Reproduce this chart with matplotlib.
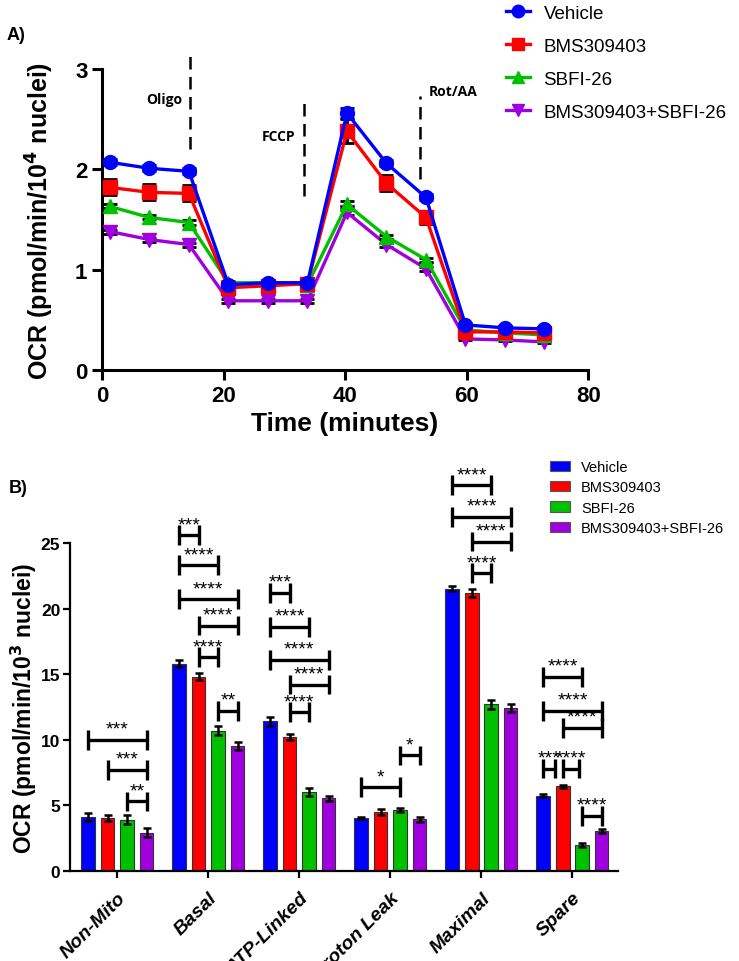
import numpy as np
import matplotlib.pyplot as plt
from matplotlib.patches import Patch
from matplotlib.lines import Line2D

plt.rcParams['font.family'] = ['Liberation Sans', 'DejaVu Sans']

groups = ['Vehicle', 'BMS309403', 'SBFI-26', 'BMS309403+SBFI-26']
colors = ['#0000ff', '#ff0000', '#00c000', '#a000e0']
markers = ['o', 's', '^', 'v']

# panel A - OCR time course
time_min = [1.3, 7.8, 14.3, 20.8, 27.3, 33.8, 40.3, 46.8, 53.3, 59.8, 66.3, 72.8]
ocr_vehicle = [2.07, 2.01, 1.98, 0.85, 0.87, 0.87, 2.56, 2.06, 1.72, 0.45, 0.42, 0.41]
ocr_bms = [1.82, 1.77, 1.76, 0.82, 0.84, 0.86, 2.38, 1.86, 1.52, 0.38, 0.38, 0.37]
ocr_sbfi = [1.63, 1.52, 1.47, 0.87, 0.87, 0.85, 1.65, 1.33, 1.10, 0.40, 0.37, 0.35]
ocr_combo = [1.38, 1.30, 1.25, 0.69, 0.69, 0.69, 1.57, 1.25, 1.01, 0.31, 0.30, 0.28]
err_vehicle = [0.03, 0.03, 0.03, 0.02, 0.02, 0.02, 0.05, 0.03, 0.03, 0.02, 0.02, 0.02]
err_bms = [0.08, 0.08, 0.08, 0.03, 0.03, 0.03, 0.12, 0.08, 0.06, 0.02, 0.02, 0.02]
err_sbfi = [0.02, 0.02, 0.02, 0.02, 0.02, 0.02, 0.03, 0.02, 0.02, 0.01, 0.01, 0.01]
err_combo = [0.02, 0.02, 0.02, 0.02, 0.02, 0.02, 0.03, 0.02, 0.02, 0.01, 0.01, 0.01]

injections = ['Oligo', 'FCCP', 'Rot/AA']
inj_time = [14.5, 33.3, 52.4]
inj_ymin = [2.20, 1.73, 1.90]
inj_ymax = [3.14, 2.67, 2.73]

# panel B - mito stress parameters
categories = ['Non-Mito', 'Basal', 'ATP-Linked', 'Proton Leak', 'Maximal', 'Spare']
bar_vehicle = [4.1, 15.8, 11.4, 4.05, 21.5, 5.75]
bar_bms = [4.05, 14.8, 10.2, 4.5, 21.2, 6.45]
bar_sbfi = [3.9, 10.7, 6.05, 4.65, 12.7, 2.0]
bar_combo = [2.9, 9.5, 5.55, 3.95, 12.45, 3.05]
sem_vehicle = [0.3, 0.25, 0.35, 0.1, 0.2, 0.15]
sem_bms = [0.25, 0.25, 0.2, 0.25, 0.3, 0.1]
sem_sbfi = [0.35, 0.35, 0.3, 0.15, 0.35, 0.15]
sem_combo = [0.35, 0.3, 0.2, 0.2, 0.3, 0.12]

# (category, bar a, bar b, height, label)
brackets = [
    (0, 0, 3, 10.0, '***'), (0, 1, 3, 7.7, '***'), (0, 2, 3, 5.3, '**'),
    (1, 0, 1, 25.6, '***'), (1, 0, 2, 23.3, '****'), (1, 0, 3, 20.7, '****'),
    (1, 1, 3, 18.7, '****'), (1, 1, 2, 16.3, '****'), (1, 2, 3, 12.2, '**'),
    (2, 0, 1, 21.2, '***'), (2, 0, 2, 18.6, '****'), (2, 0, 3, 16.1, '****'),
    (2, 1, 3, 14.2, '****'), (2, 1, 2, 12.1, '****'),
    (3, 0, 2, 6.4, '*'), (3, 2, 3, 8.8, '*'),
    (4, 0, 2, 29.4, '****'), (4, 0, 3, 27.0, '****'), (4, 1, 3, 25.1, '****'),
    (4, 1, 2, 22.7, '****'),
    (5, 0, 2, 14.8, '****'), (5, 0, 3, 12.2, '****'), (5, 1, 3, 10.9, '****'),
    (5, 0, 0.6, 7.8, '***'), (5, 1, 1.85, 7.8, '****'), (5, 2, 3, 4.2, '****'),
]

fig = plt.figure(figsize=(7.39, 9.62), dpi=100)

# ---------- A ----------
ax1 = fig.add_axes([0.138, 0.6143, 0.658, 0.313])
series = [ocr_vehicle, ocr_bms, ocr_sbfi, ocr_combo]
errs = [err_vehicle, err_bms, err_sbfi, err_combo]
for k in [3, 2, 1, 0]:
    ax1.errorbar(time_min, series[k], yerr=errs[k], color=colors[k], ecolor='black',
                 elinewidth=2, capsize=5, capthick=2, lw=2.4, marker=markers[k],
                 ms=10, zorder=3 + (3 - k))
for name, t, y0, y1 in zip(injections, inj_time, inj_ymin, inj_ymax):
    ax1.plot([t, t], [y0, y1], color='black', lw=1.8, ls=(0, (5, 3)), clip_on=False)
ax1.text(13.2, 2.70, 'Oligo', ha='right', va='center', fontsize=10, fontweight='bold', family='Open Sans')
ax1.text(31.8, 2.33, 'FCCP', ha='right', va='center', fontsize=10, fontweight='bold', family='Open Sans')
ax1.text(53.7, 2.78, 'Rot/AA', ha='left', va='center', fontsize=10, fontweight='bold', family='Open Sans')

ax1.set_xlim(0, 80)
ax1.set_ylim(0, 3)
ax1.set_xticks([0, 20, 40, 60, 80])
ax1.set_yticks([0, 1, 2, 3])
for s in ['top', 'right']:
    ax1.spines[s].set_visible(False)
for s in ['left', 'bottom']:
    ax1.spines[s].set_linewidth(2.2)
ax1.tick_params(width=2.2, length=7, labelsize=16)
for lab in ax1.get_xticklabels() + ax1.get_yticklabels():
    lab.set_fontweight('bold')
ax1.set_xlabel('Time (minutes)', fontsize=19, fontweight='bold')
ax1.set_ylabel('OCR (pmol/min/10$^\\mathbf{4}$ nuclei)', fontsize=18, fontweight='bold', labelpad=14)

handles = [Line2D([], [], color=colors[k], marker=markers[k], lw=2.4, ms=9) for k in range(4)]
fig.legend(handles, groups, loc='upper left', bbox_to_anchor=(0.672, 1.004), frameon=False,
           fontsize=13.5, handlelength=1.3, handletextpad=0.7, labelspacing=0.85, borderpad=0)
fig.text(0.009, 0.958, 'A)', fontsize=13, fontweight='bold')

# ---------- B ----------
ax2 = fig.add_axes([0.0947, 0.0936, 0.7415, 0.341])
bars = [bar_vehicle, bar_bms, bar_sbfi, bar_combo]
sems = [sem_vehicle, sem_bms, sem_sbfi, sem_combo]
step = 0.214
x = np.arange(len(categories))
for k in range(4):
    ax2.bar(x + (k - 1.5) * step, bars[k], width=0.15, color=colors[k], edgecolor='#333333',
            linewidth=0.8, yerr=sems[k], capsize=3,
            error_kw=dict(elinewidth=1.8, capthick=1.8, ecolor='black'), zorder=2)

for c, a, b, y, lab in brackets:
    xa = c + (a - 1.5) * step
    xb = c + (b - 1.5) * step
    ax2.plot([xa, xb], [y, y], color='black', lw=2.4, clip_on=False, solid_capstyle='butt')
    for xx in (xa, xb):
        ax2.plot([xx, xx], [y - 0.75, y + 0.75], color='black', lw=2.4, clip_on=False,
                 solid_capstyle='butt')
    ax2.text((xa + xb) / 2, y + 0.15, lab, ha='center', va='bottom', fontsize=14, clip_on=False)

ax2.set_xlim(-0.52, 5.5)
ax2.set_ylim(0, 25)
ax2.set_yticks([0, 5, 10, 15, 20, 25])
ax2.set_xticks(x)
ax2.set_xticklabels(categories, rotation=45, ha='right', rotation_mode='anchor',
                    fontsize=14, fontweight='bold', fontstyle='italic')
for s in ['top', 'right']:
    ax2.spines[s].set_visible(False)
for s in ['left', 'bottom']:
    ax2.spines[s].set_linewidth(1.6)
ax2.tick_params(width=1.6, length=5)
ax2.tick_params(axis='x', pad=8)
ax2.tick_params(axis='y', labelsize=12.5, pad=2)
for lab in ax2.get_yticklabels():
    lab.set_fontweight('bold')
ax2.set_ylabel('OCR (pmol/min/10$^\\mathbf{3}$ nuclei)', fontsize=16.5, fontweight='bold', labelpad=1)

phandles = [Patch(facecolor=colors[k], edgecolor='#555555', linewidth=0.8) for k in range(4)]
fig.legend(phandles, groups, loc='upper left', bbox_to_anchor=(0.735, 0.528), frameon=False,
           fontsize=10.5, handlelength=1.35, handleheight=0.7, handletextpad=0.75,
           labelspacing=0.42, borderpad=0)
fig.text(0.012, 0.488, 'B)', fontsize=13, fontweight='bold')

fig.savefig('out.png', dpi=100)
